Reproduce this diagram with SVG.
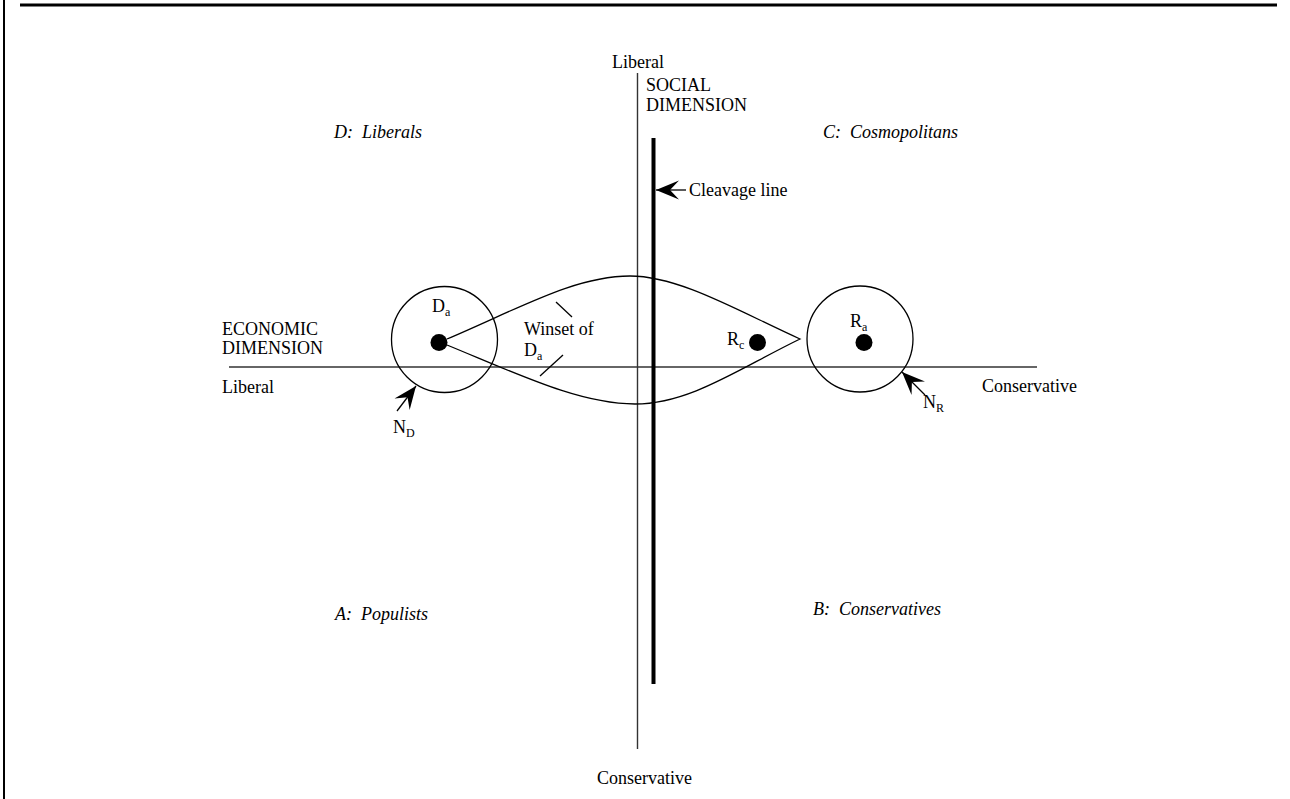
<svg xmlns="http://www.w3.org/2000/svg" width="1290" height="799" viewBox="0 0 1290 799">
<style>
text{font-family:"Liberation Serif","Times New Roman",serif;font-size:18px;fill:#000}
.it{font-style:italic}
.sub{font-size:12px}
.ln{stroke:#000;fill:none;stroke-width:1.3}
.ax{stroke:#333;fill:none;stroke-width:1.4}
.dot{fill:#000}
</style>
<defs>
<marker id="barb" markerUnits="userSpaceOnUse" markerWidth="26" markerHeight="22" viewBox="-24 -11 26 22" refX="0" refY="0" orient="auto">
<path d="M0,0 L-23,-9.5 L-14,0 L-23,9.5 Z" fill="#000"/>
</marker>
</defs>
<g id="frame">
<line x1="4" y1="0" x2="4" y2="799" stroke="#000" stroke-width="2"/>
<line x1="20" y1="5" x2="1277" y2="5" stroke="#000" stroke-width="3"/>
</g>
<g id="axes" font-family="Liberation Serif, Times New Roman, serif">
<line class="ax" x1="637.5" y1="73" x2="637.5" y2="749"/>
<line class="ax" x1="229" y1="367" x2="1037" y2="367"/>
<text x="612" y="68">Liberal</text>
<text x="597" y="784">Conservative</text>
<text x="646" y="91">SOCIAL</text>
<text x="646" y="111">DIMENSION</text>
<text x="222" y="335">ECONOMIC</text>
<text x="222" y="354">DIMENSION</text>
<text x="222" y="393">Liberal</text>
<text x="982" y="392">Conservative</text>
</g>
<g id="quadrants">
<text class="it" x="334" y="138" xml:space="preserve">D:  Liberals</text>
<text class="it" x="823" y="138" xml:space="preserve">C:  Cosmopolitans</text>
<text class="it" x="335" y="620" xml:space="preserve">A:  Populists</text>
<text class="it" x="813" y="615" xml:space="preserve">B:  Conservatives</text>
</g>
<g id="cleavage">
<line x1="653.5" y1="138" x2="653.5" y2="684" stroke="#000" stroke-width="4"/>
<text x="689" y="196">Cleavage line</text>
</g>
<g id="winset">
<path class="ln" d="M447,339 C520,308 575,276 630,276 C680,276 740,312 800,339 C740,368 690,404 635,404 C580,404 520,375 447,345"/>
<text x="524" y="335">Winset of</text>
<text x="524" y="356">D<tspan class="sub" dy="4">a</tspan></text>
</g>
<g id="ND">
<circle class="ln" cx="444.5" cy="339.5" r="53"/>
<circle class="dot" cx="439" cy="342.5" r="8.5"/>
<text x="432" y="312">D<tspan class="sub" dy="4">a</tspan></text>
<text x="393" y="433">N<tspan class="sub" dy="4">D</tspan></text>
</g>
<g id="NR">
<circle class="ln" cx="860" cy="339" r="53"/>
<circle class="dot" cx="864" cy="342.5" r="8.5"/>
<text x="850" y="327">R<tspan class="sub" dy="4">a</tspan></text>
<text x="923" y="408">N<tspan class="sub" dy="4">R</tspan></text>
</g>
<g id="Rc">
<circle class="dot" cx="757.5" cy="342.5" r="8.5"/>
<text x="727" y="345">R<tspan class="sub" dy="4">c</tspan></text>
</g>
<g id="connectors">
<line class="ln" x1="686" y1="190" x2="656" y2="190" marker-end="url(#barb)"/>
<line class="ln" x1="397" y1="411" x2="416" y2="386" marker-end="url(#barb)"/>
<line class="ln" x1="925" y1="395" x2="902" y2="372" marker-end="url(#barb)"/>
<line class="ln" x1="556" y1="302" x2="572" y2="317"/>
<line class="ln" x1="540" y1="376" x2="563" y2="355"/>
</g>
</svg>
